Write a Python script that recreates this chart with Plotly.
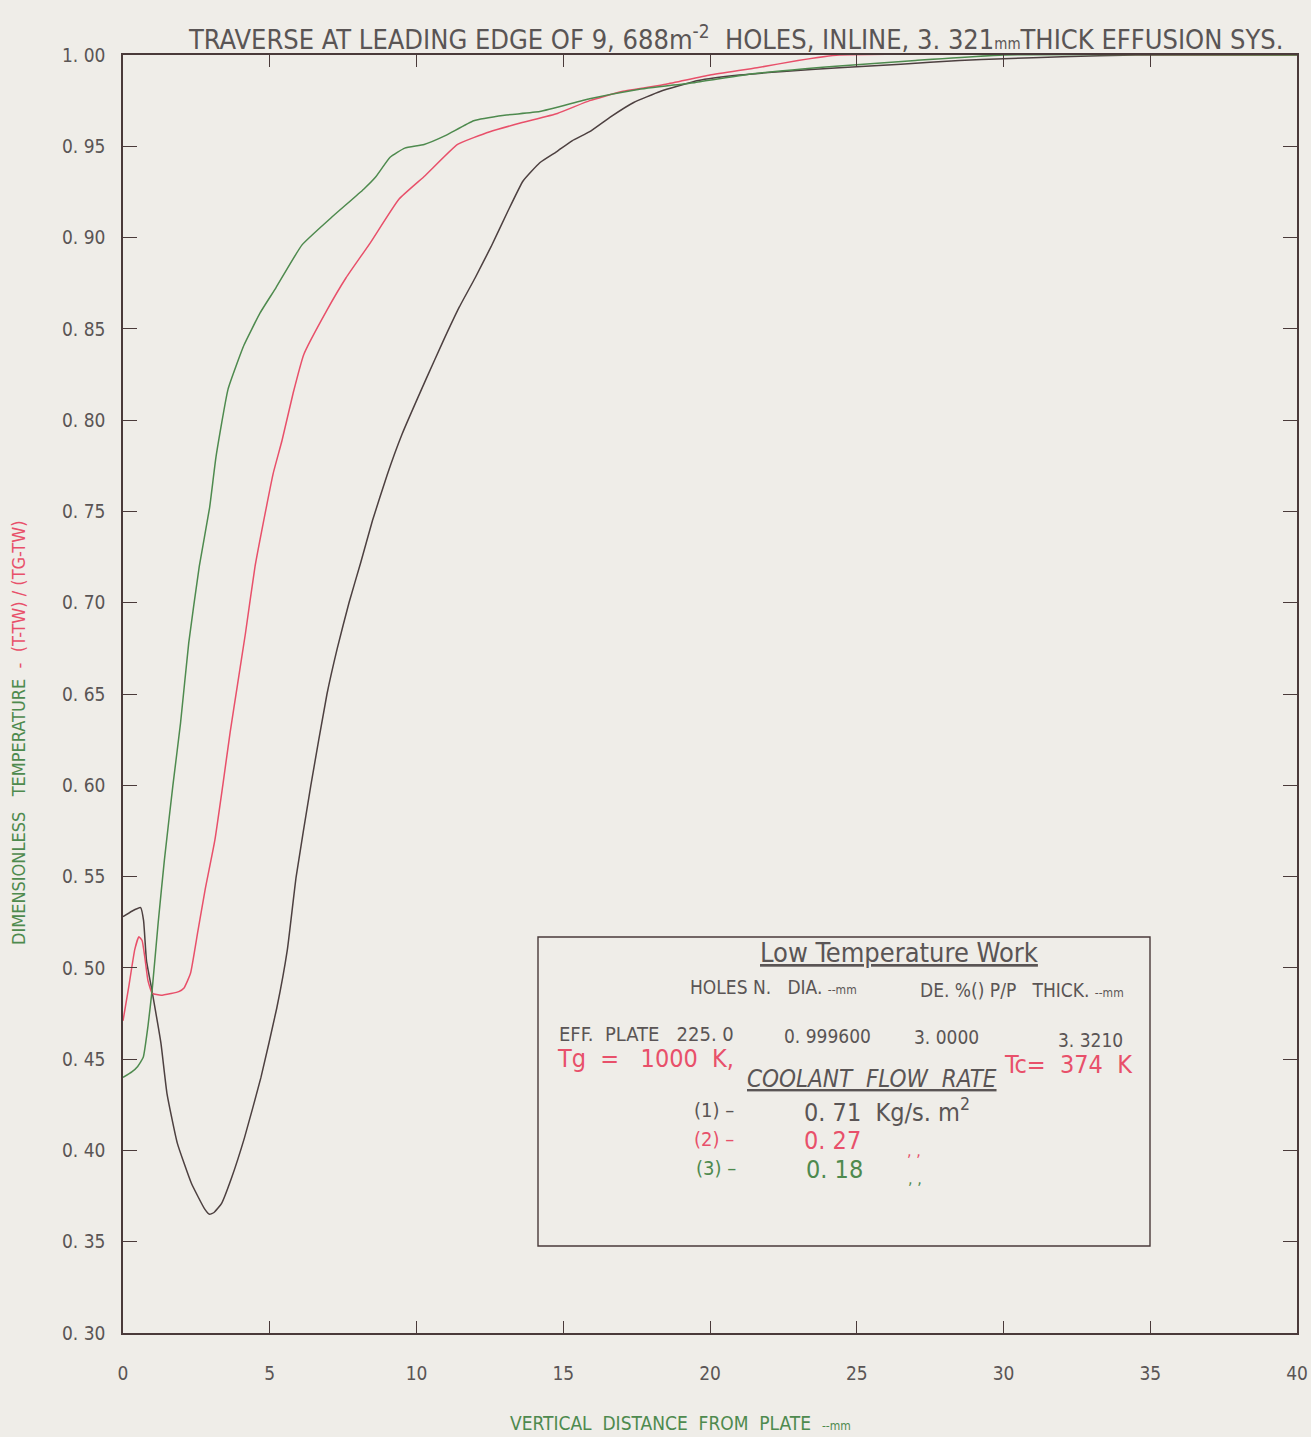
import plotly.graph_objects as go

# ---- data: dimensionless temperature traverses, three coolant flow rates ----
dist_1 = [0, 0.3, 0.6, 0.7, 0.8, 0.97, 1.29, 1.5, 1.85, 2.33, 2.78, 2.95, 3.1, 3.36, 3.7,
          4.14, 4.7, 5.24, 5.6, 5.9, 6.4, 6.95, 7.3, 7.7, 8.1, 8.5, 9.0, 9.5, 10.34, 10.9,
          11.46, 12.0, 12.54, 13.1, 13.63, 14.2, 14.77, 15.3, 15.9, 16.6, 17.4, 18.3, 19.6,
          21.0, 22.5, 24.4, 26.5, 28.5, 30.0, 32.0, 34.5, 40.0]
temp_1 = [0.528, 0.531, 0.533, 0.526, 0.504, 0.489, 0.459, 0.431, 0.404, 0.382, 0.368, 0.365,
          0.366, 0.371, 0.385, 0.407, 0.440, 0.478, 0.510, 0.550, 0.600, 0.650, 0.675, 0.700,
          0.722, 0.745, 0.770, 0.792, 0.823, 0.843, 0.862, 0.878, 0.895, 0.914, 0.931, 0.941,
          0.947, 0.953, 0.958, 0.966, 0.974, 0.980, 0.986, 0.989, 0.991, 0.993, 0.995, 0.997,
          0.998, 0.999, 1.000, 1.000]

dist_2 = [0, 0.2, 0.4, 0.54, 0.65, 0.75, 0.85, 1.0, 1.3, 1.64, 1.9, 2.08, 2.3, 2.55, 2.8,
          3.13, 3.4, 3.65, 3.9, 4.17, 4.5, 4.88, 5.12, 5.42, 5.8, 6.16, 6.94, 7.6, 8.42, 9.4,
          10.3, 11.4, 12.5, 13.6, 14.8, 15.9, 17.0, 18.5, 20.0, 21.6, 23.0, 24.4, 40.0]
temp_2 = [0.471, 0.490, 0.510, 0.517, 0.515, 0.505, 0.493, 0.486, 0.485, 0.486, 0.487, 0.489,
          0.497, 0.520, 0.543, 0.570, 0.600, 0.629, 0.655, 0.683, 0.720, 0.752, 0.771, 0.789,
          0.815, 0.836, 0.860, 0.878, 0.897, 0.921, 0.934, 0.951, 0.958, 0.963, 0.968, 0.975,
          0.980, 0.984, 0.989, 0.993, 0.997, 1.000, 1.000]

dist_3 = [0, 0.3, 0.5, 0.69, 0.85, 1.0, 1.2, 1.41, 1.7, 1.96, 2.24, 2.6, 2.95, 3.17, 3.58,
          4.12, 4.68, 5.21, 6.1, 7.1, 8.2, 8.6, 9.1, 9.6, 10.26, 11.0, 11.95, 13.0, 14.2,
          15.9, 17.5, 19.5, 21.6, 24.4, 27.0, 30.0, 40.0]
temp_3 = [0.440, 0.443, 0.446, 0.451, 0.468, 0.489, 0.525, 0.559, 0.600, 0.634, 0.678, 0.720,
          0.752, 0.780, 0.817, 0.841, 0.859, 0.8725, 0.896, 0.911, 0.9265, 0.933, 0.944, 0.949,
          0.951, 0.956, 0.964, 0.967, 0.969, 0.976, 0.981, 0.985, 0.990, 0.994, 0.997, 1.000,
          1.000]

x_ticks = [0, 5, 10, 15, 20, 25, 30, 35, 40]
x_tick_text = ["0", "5", "10", "15", "20", "25", "30", "35", "40"]
y_ticks = [0.30, 0.35, 0.40, 0.45, 0.50, 0.55, 0.60, 0.65, 0.70, 0.75, 0.80, 0.85, 0.90,
           0.95, 1.00]
y_tick_text = ["0. 30", "0. 35", "0. 40", "0. 45", "0. 50", "0. 55", "0. 60", "0. 65",
               "0. 70", "0. 75", "0. 80", "0. 85", "0. 90", "0. 95", "1. 00"]

# ---- styling ----
W, H = 1311, 1437
L, R, T, B = 123, 1297, 55, 1333
PAPER = "#efede8"
INK = "#4a3a3a"
TXT = "#5a5555"
RED = "#e8506a"
GREEN = "#4e8a4e"
FONT = "DejaVu Sans Condensed, Roboto, sans-serif"


def fx(p):
    return (p - L) / (R - L)


def fy(p):
    return (B - p) / (B - T)


fig = go.Figure()
line_style = dict(width=1.5, shape="spline", smoothing=0.4)
fig.add_trace(go.Scatter(x=dist_1, y=temp_1, mode="lines",
                         line=dict(color="#4d4040", **line_style), name="(1)"))
fig.add_trace(go.Scatter(x=dist_2, y=temp_2, mode="lines",
                         line=dict(color=RED, **line_style), name="(2)"))
fig.add_trace(go.Scatter(x=dist_3, y=temp_3, mode="lines",
                         line=dict(color=GREEN, **line_style), name="(3)"))

axis_common = dict(showline=True, linecolor=INK, linewidth=1.6, mirror="ticks",
                   ticks="inside", tickcolor=INK, tickwidth=1.2, showgrid=False,
                   zeroline=False, automargin=False,
                   tickfont=dict(family=FONT, size=19, color=TXT))
fig.update_xaxes(range=[0, 40], tickvals=x_ticks, ticktext=x_tick_text, ticklen=12,
                 ticklabelstandoff=22, **axis_common)
fig.update_yaxes(range=[0.30, 1.00], tickvals=y_ticks, ticktext=y_tick_text, ticklen=14,
                 ticklabelstandoff=12, **axis_common)

ann = []


def note(px, py, text, size=16, color=TXT, anchor="left", angle=0):
    ann.append(dict(x=fx(px), y=fy(py), xref="paper", yref="paper", showarrow=False,
                    xanchor=anchor, yanchor="middle", textangle=angle, text=text,
                    font=dict(family=FONT, size=size, color=color)))


note(735, 37, "TRAVERSE AT LEADING EDGE OF 9, 688m<sup>-2</sup>  HOLES, INLINE, 3. 321"
              "<span style='font-size:15px'>mm</span>THICK EFFUSION SYS.",
     size=27, anchor="center")
note(18, 733, f"<span style='color:{GREEN}'>DIMENSIONLESS   TEMPERATURE</span>"
              f"<span style='color:{RED}'>  -  (T-TW) / (TG-TW)</span>",
     size=18, anchor="center", angle=-90)
note(680, 1423, "VERTICAL  DISTANCE  FROM  PLATE  <span style='font-size:12px'>--mm</span>",
     size=19, color=GREEN, anchor="center")

# parameter panel
note(899, 953, "<u>Low Temperature Work</u>", size=27, anchor="center")
note(688, 987, "HOLES N.   DIA. <span style='font-size:12px'>--mm</span>", size=19)
note(918, 990, "DE. %() P/P   THICK. <span style='font-size:12px'>--mm</span>", size=19)
note(557, 1034, "EFF.  PLATE   225. 0", size=20)
note(782, 1036, "0. 999600", size=19)
note(912, 1037, "3. 0000", size=19)
note(1056, 1040, "3. 3210", size=19)
note(555, 1058, "Tg  =   1000  K,", size=25, color=RED)
note(1002, 1064, "Tc=  374  K", size=25, color=RED)
note(745, 1079, "<i><u>COOLANT  FLOW  RATE</u></i>", size=24)
note(692, 1110, "(1) –", size=20)
note(802, 1110, "0. 71  Kg/s. m<sup>2</sup>", size=25)
note(692, 1139, "(2) –", size=20, color=RED)
note(802, 1140, "0. 27", size=25, color=RED)
note(905, 1150, ", ,", size=16, color=RED)
note(694, 1168, "(3) –", size=20, color=GREEN)
note(804, 1169, "0. 18", size=25, color=GREEN)
note(906, 1178, ", ,", size=16, color=GREEN)

fig.update_layout(
    width=W, height=H,
    margin=dict(l=L, r=W - R, t=T, b=H - B),
    paper_bgcolor=PAPER, plot_bgcolor=PAPER,
    showlegend=False,
    annotations=ann,
    shapes=[dict(type="rect", xref="paper", yref="paper",
                 x0=fx(538), x1=fx(1150), y0=fy(1246), y1=fy(937),
                 line=dict(color=INK, width=1.4))],
)

fig.write_html("out.html")
